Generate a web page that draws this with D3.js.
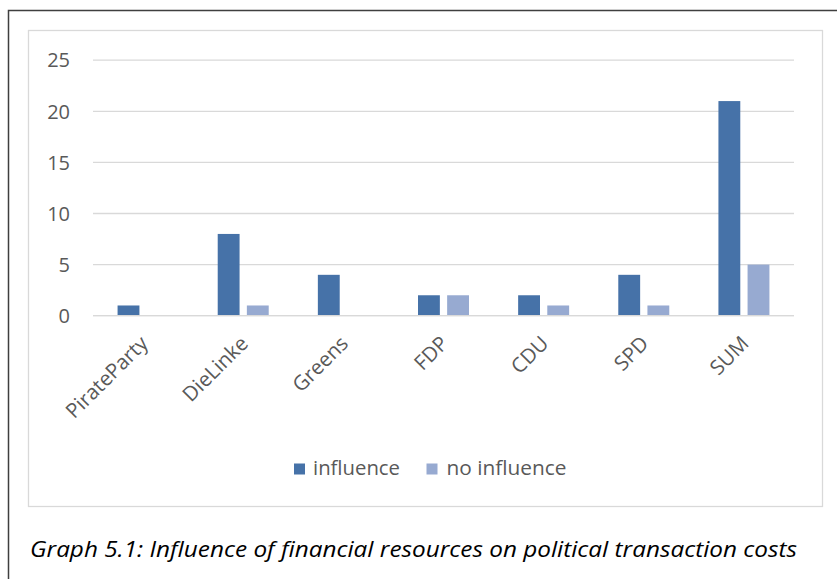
<!DOCTYPE html>
<html><head><meta charset="utf-8">
<script src="https://cdn.jsdelivr.net/npm/d3@7"></script>
<style>body{margin:0;background:#fff;} svg{display:block;}</style>
</head><body>
<svg id="c" width="837" height="579"></svg>
<script>
const categories = ["PirateParty","DieLinke","Greens","FDP","CDU","SPD","SUM"];
const influence = [1,8,4,2,2,4,21];
const noInfluence = [0,1,0,2,1,1,5];
const seriesNames = ["influence","no influence"];
const yTicks = [0,5,10,15,20,25];
const caption = "Graph 5.1: Influence of financial resources on political transaction costs";
const colors = ["#4672a8","#97aad1"];

const svg = d3.select("#c");
// outer frame
svg.append("path").attr("d","M8.5,590 V10.5 H840").attr("fill","none").attr("stroke","#3f3f3f").attr("stroke-width",1.5);
// chart area
svg.append("rect").attr("x",28.5).attr("y",30.5).attr("width",794).attr("height",476).attr("fill","#fff").attr("stroke","#d9d9d9").attr("stroke-width",1.3);

const x0 = d3.scaleBand().domain(categories).range([93,794]).paddingInner(0).paddingOuter(0);
const x1 = d3.scaleBand().domain(seriesNames).range([x0.bandwidth()/2-25.5, x0.bandwidth()/2+25.5]).paddingInner(0.25).paddingOuter(0);
const y = d3.scaleLinear().domain([0,25]).range([315.7,60.2]);

// grid
svg.append("g").selectAll("line").data(yTicks).join("line")
  .attr("x1",93).attr("x2",794).attr("y1",d=>y(d)).attr("y2",d=>y(d))
  .attr("stroke","#d9d9d9").attr("stroke-width",1.3);

// y labels
svg.append("g").selectAll("text").data(yTicks).join("text")
  .attr("x",70).attr("y",d=>y(d)).attr("dy","0.36em").attr("text-anchor","end")
  .attr("font-family","Open Sans").attr("font-size",20).attr("fill","#595959").text(d=>d);

const data = categories.map((c,i)=>({c, vals:[influence[i], noInfluence[i]]}));
const g = svg.append("g").selectAll("g").data(data).join("g").attr("transform",d=>`translate(${x0(d.c)},0)`);
g.selectAll("rect").data(d=>d.vals.map((v,j)=>({v,s:seriesNames[j],j}))).join("rect")
  .attr("x",d=>x1(d.s)).attr("width",x1.bandwidth())
  .attr("y",d=>y(d.v)).attr("height",d=>y(0)-y(d.v))
  .attr("fill",d=>colors[d.j]);

// x axis line
svg.append("line").attr("x1",93).attr("x2",794).attr("y1",y(0)).attr("y2",y(0)).attr("stroke","#d9d9d9").attr("stroke-width",1.3);

// x labels
svg.append("g").selectAll("text").data(categories).join("text")
  .attr("transform",d=>`translate(${x0(d)+x0.bandwidth()/2+1},${y(0)+24}) rotate(-45)`)
  .attr("text-anchor","end").attr("dy","0.35em")
  .attr("font-family","Open Sans").attr("font-size",20.5).attr("fill","#595959").text(d=>d);

// legend
const leg = [{x:294,tx:313,w:87},{x:426.5,tx:446.5,w:120}];
seriesNames.forEach((s,i)=>{
  svg.append("rect").attr("x",leg[i].x).attr("y",463.5).attr("width",11).attr("height",11).attr("fill",colors[i]);
  svg.append("text").attr("x",leg[i].tx).attr("y",475).attr("font-family","Open Sans").attr("font-size",19.5)
    .attr("fill","#595959").attr("textLength",leg[i].w).attr("lengthAdjust","spacingAndGlyphs").text(s);
});

// caption
svg.append("text").attr("x",30).attr("y",557).attr("font-family","Open Sans").attr("font-style","italic")
  .attr("font-size",22).attr("fill","#000").attr("textLength",767).attr("lengthAdjust","spacingAndGlyphs").text(caption);
</script>
</body></html>
